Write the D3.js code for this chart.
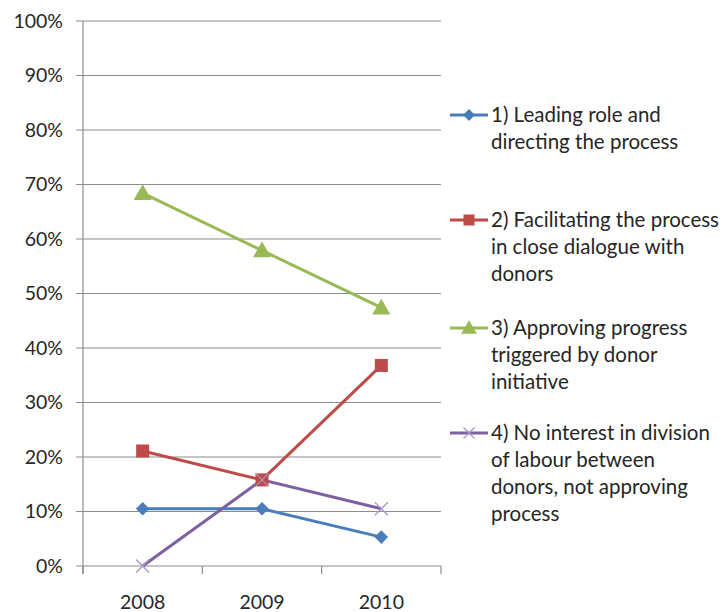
<!DOCTYPE html>
<html><head><meta charset="utf-8">
<script src="https://cdn.jsdelivr.net/npm/d3@7/dist/d3.min.js"></script>
<style>body{margin:0;background:#fff}svg{display:block}</style>
</head><body>
<svg id="c" width="724" height="612"></svg>
<script>
const years = ["2008", "2009", "2010"];
const seriesNames = [
  ["1) Leading role and", "directing the process"],
  ["2) Facilitating the process", "in close dialogue with", "donors"],
  ["3) Approving progress", "triggered by donor", "initiative"],
  ["4) No interest in division", "of labour between", "donors, not approving", "process"]
];
const s1 = [0.105, 0.105, 0.053];
const s2 = [0.211, 0.158, 0.368];
const s3 = [0.684, 0.579, 0.474];
const s4 = [0.0, 0.158, 0.105];
const yTicks = [0, 0.1, 0.2, 0.3, 0.4, 0.5, 0.6, 0.7, 0.8, 0.9, 1.0];
const colors = ["#4A7EBB", "#BE4B48", "#98B954", "#7D60A0"];
const markers = ["diamond", "square", "triangle", "x"];

const svg = d3.select("#c");
const font = "Lato, 'Open Sans', sans-serif";
const x = d3.scaleBand().domain(years).range([83, 441]);
const y = d3.scaleLinear().domain([0, 1]).range([566, 21]);

svg.append("g").selectAll("line").data(yTicks).join("line")
  .attr("x1", 76).attr("x2", 441)
  .attr("y1", d => y(d)).attr("y2", d => y(d))
  .attr("stroke", "#8c8c8c").attr("stroke-width", 1.2);
svg.append("line").attr("x1", 83).attr("x2", 83).attr("y1", y(1)).attr("y2", 574)
  .attr("stroke", "#8c8c8c").attr("stroke-width", 1.2);
const bounds = years.map(d => x(d)).concat([x.range()[1]]);
svg.append("g").selectAll("line").data(bounds).join("line")
  .attr("x1", d => d).attr("x2", d => d).attr("y1", y(0)).attr("y2", 574)
  .attr("stroke", "#8c8c8c").attr("stroke-width", 1.2);
svg.append("g").selectAll("text").data(yTicks).join("text")
  .attr("x", 63).attr("y", d => y(d)).attr("dy", "0.35em")
  .attr("text-anchor", "end").attr("font-family", font).attr("font-size", 19.5)
  .attr("fill", "#262626").text(d => d3.format(".0%")(d));
svg.append("g").selectAll("text").data(years).join("text")
  .attr("x", d => x(d) + x.bandwidth() / 2).attr("y", 609)
  .attr("text-anchor", "middle").attr("font-family", font).attr("font-size", 19.5)
  .attr("fill", "#262626").text(d => d);

function marker(g, type, color, size) {
  if (type === "diamond") {
    g.append("path").attr("d", d3.symbol(d3.symbolDiamond2, size * 9)()).attr("fill", color);
  } else if (type === "square") {
    g.append("rect").attr("x", -size / 2).attr("y", -size / 2).attr("width", size).attr("height", size).attr("fill", color);
  } else if (type === "triangle") {
    const h = size;
    g.append("path").attr("d", `M0,${-h * 0.6}L${h * 0.6},${h * 0.45}L${-h * 0.6},${h * 0.45}Z`).attr("fill", color);
  } else {
    const r = size / 2;
    g.append("path").attr("d", `M${-r},${-r}L${r},${r}M${-r},${r}L${r},${-r}`)
      .attr("stroke", color).attr("stroke-width", 1.3).attr("fill", "none");
  }
}

const data = [s1, s2, s3, s4];
const line = d3.line().x((d, i) => x(years[i]) + x.bandwidth() / 2).y(d => y(d));
const msize = [13, 13, 15, 13];
data.forEach((vals, k) => {
  svg.append("path").datum(vals).attr("d", line).attr("fill", "none")
    .attr("stroke", colors[k]).attr("stroke-width", 3);
});
data.forEach((vals, k) => {
  vals.forEach((v, i) => {
    const g = svg.append("g").attr("transform", `translate(${x(years[i]) + x.bandwidth() / 2},${y(v)})`);
    marker(g, markers[k], k === 3 ? "#A897C2" : colors[k], msize[k]);
  });
});

const legY = [115, 220, 328, 433];
seriesNames.forEach((lines, k) => {
  const g = svg.append("g");
  g.append("line").attr("x1", 450).attr("x2", 488).attr("y1", legY[k]).attr("y2", legY[k])
    .attr("stroke", colors[k]).attr("stroke-width", 3);
  const mg = g.append("g").attr("transform", `translate(469,${legY[k]})`);
  marker(mg, markers[k], k === 3 ? "#A897C2" : colors[k], k === 0 ? 10 : (k === 2 ? 13 : 11));
  g.selectAll("text").data(lines).join("text")
    .attr("x", 491).attr("y", (d, i) => legY[k] + i * 27).attr("dy", "0.35em")
    .attr("font-family", font).attr("font-size", 20.5).attr("fill", "#262626").text(d => d);
});
</script>
</body></html>
